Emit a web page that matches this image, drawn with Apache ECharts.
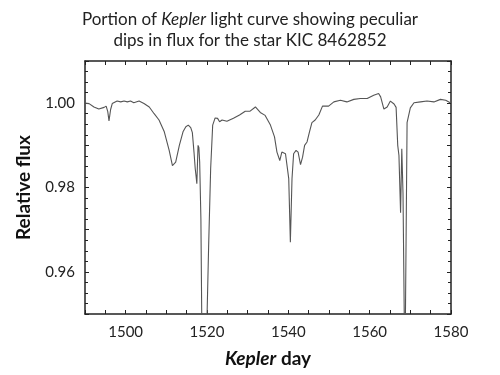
<!DOCTYPE html>
<html>
<head>
<meta charset="utf-8">
<script src="https://cdn.jsdelivr.net/npm/echarts@6/dist/echarts.min.js"></script>
<style>
    html, body { margin: 0; padding: 0; background: #fff; }
    #kepler-chart { width: 500px; height: 375px; }
</style>
</head>
<body>
<div id="kepler-chart"></div>
<script>
    // Kepler day
    var days = [
        1490.0, 1491.0, 1492.2, 1493.4, 1494.7, 1495.2, 1495.6, 1495.9, 1496.3, 1496.7, 1497.9, 1498.8,
        1499.6, 1500.4, 1501.2, 1502.0, 1503.3, 1504.5, 1505.8, 1507.0, 1508.2, 1509.5, 1510.7, 1511.5,
        1512.3, 1513.2, 1514.1, 1514.8, 1515.4, 1516.0, 1516.4, 1516.8, 1517.1, 1517.3, 1517.5, 1517.8,
        1518.0, 1518.2, 1518.5, 1518.7, 1519.1, 1519.5, 1520.0, 1520.4, 1520.9, 1521.4, 1522.0, 1522.6,
        1523.1, 1523.7, 1524.9, 1526.5, 1528.0, 1529.4, 1530.6, 1531.9, 1533.1, 1534.3, 1535.6, 1536.6,
        1537.2, 1537.9, 1538.4, 1538.8, 1539.3, 1539.7, 1540.1, 1540.5, 1540.9, 1541.3, 1541.9, 1542.4,
        1543.0, 1543.5, 1544.0, 1544.6, 1545.2, 1545.8, 1546.6, 1547.5, 1548.4, 1549.9, 1551.2, 1552.8,
        1554.4, 1556.1, 1557.7, 1559.4, 1561.0, 1562.2, 1562.7, 1563.5, 1564.3, 1565.1, 1566.0, 1566.5,
        1566.9, 1567.2, 1567.6, 1567.9, 1568.2, 1568.5, 1568.6, 1568.8, 1569.2, 1570.0, 1570.9, 1572.5,
        1574.1, 1575.8, 1577.4, 1578.7, 1579.8
    ];
    // relative flux
    var flux = [
        1.0000, 0.9999, 0.9991, 0.9986, 0.9990, 0.9993, 0.9980, 0.9958, 0.9985, 0.9999, 1.0005, 1.0003,
        1.0005, 1.0003, 1.0005, 1.0001, 1.0005, 0.9999, 0.9991, 0.9975, 0.9960, 0.9932, 0.9888, 0.9852,
        0.9860, 0.9900, 0.9932, 0.9944, 0.9948, 0.9942, 0.9930, 0.9884, 0.9845, 0.9828, 0.9809, 0.9900,
        0.9895, 0.9860, 0.9726, 0.9500, 0.8600, 0.8300, 0.9490, 0.9660, 0.9845, 0.9948, 0.9965, 0.9964,
        0.9956, 0.9960, 0.9957, 0.9964, 0.9972, 0.9981, 0.9981, 0.9991, 0.9978, 0.9971, 0.9948, 0.9920,
        0.9884, 0.9864, 0.9884, 0.9888, 0.9880, 0.9876, 0.9821, 0.9670, 0.9820, 0.9880, 0.9888, 0.9884,
        0.9854, 0.9872, 0.9900, 0.9908, 0.9932, 0.9954, 0.9960, 0.9972, 0.9993, 0.9993, 1.0003, 1.0007,
        1.0003, 1.0009, 1.0011, 1.0011, 1.0019, 1.0023, 1.0015, 0.9986, 0.9991, 1.0005, 0.9998, 0.9990,
        0.9900, 0.9876, 0.9740, 0.9892, 0.9785, 0.9500, 0.9200, 0.9500, 0.9954, 0.9989, 1.0001, 1.0003,
        1.0005, 1.0003, 1.0009, 1.0007, 1.0001
    ];
    var titleLines = ['Portion of {i|Kepler} light curve showing peculiar', 'dips in flux for the star KIC 8462852'];

    var myChart = echarts.init(document.getElementById('kepler-chart'));
    var fontName = 'Lato';

    var points = [];
    for (var i = 0; i < days.length; i++) {
        points.push([days[i], flux[i]]);
    }

    var tickStyle = { show: true, inside: true, length: 4, lineStyle: { color: '#222', width: 1 } };
    var minorStyle = { show: true, splitNumber: 2, length: 4, lineStyle: { color: '#222', width: 1 } };
    var lineStyle = { show: true, lineStyle: { color: '#222', width: 1.5 } };

    var option = {
        animation: false,
        title: {
            text: titleLines.join('\n'),
            left: 'center',
            top: 4,
            textStyle: {
                fontFamily: fontName,
                fontSize: 17,
                fontWeight: 'normal',
                color: '#222',
                lineHeight: 21,
                rich: {
                    i: { fontFamily: fontName, fontSize: 17, fontStyle: 'italic', color: '#222', lineHeight: 21 }
                }
            }
        },
        grid: { left: 85, right: 49, top: 61, bottom: 61 },
        xAxis: [
            {
                type: 'value',
                min: 1490,
                max: 1580,
                interval: 10,
                name: '{i|Kepler} day',
                nameLocation: 'middle',
                nameGap: 35,
                nameTextStyle: {
                    fontFamily: fontName,
                    fontSize: 19,
                    fontWeight: 'bold',
                    color: '#111',
                    rich: {
                        i: { fontFamily: fontName, fontSize: 19, fontWeight: 'bold', fontStyle: 'italic', color: '#111' }
                    }
                },
                axisLine: lineStyle,
                axisTick: tickStyle,
                minorTick: minorStyle,
                splitLine: { show: false },
                axisLabel: {
                    fontFamily: fontName,
                    fontSize: 15,
                    color: '#222',
                    margin: 11,
                    formatter: function (v) { return v % 20 === 0 ? String(v) : ''; }
                }
            },
            {
                type: 'value',
                position: 'top',
                min: 1490,
                max: 1580,
                interval: 10,
                axisLine: lineStyle,
                axisTick: tickStyle,
                minorTick: minorStyle,
                splitLine: { show: false },
                axisLabel: { show: false }
            }
        ],
        yAxis: [
            {
                type: 'value',
                min: 0.95,
                max: 1.01,
                interval: 0.01,
                name: 'Relative flux',
                nameLocation: 'middle',
                nameGap: 52,
                nameTextStyle: { fontFamily: fontName, fontSize: 19, fontWeight: 'bold', color: '#111' },
                axisLine: lineStyle,
                axisTick: tickStyle,
                minorTick: { show: true, splitNumber: 4, length: 3, lineStyle: { color: '#222', width: 1 } },
                splitLine: { show: false },
                axisLabel: {
                    fontFamily: fontName,
                    fontSize: 15,
                    color: '#222',
                    margin: 10,
                    formatter: function (v) { return Math.round(v * 100) % 2 === 0 ? v.toFixed(2) : ''; }
                }
            },
            {
                type: 'value',
                position: 'right',
                min: 0.95,
                max: 1.01,
                interval: 0.01,
                axisLine: lineStyle,
                axisTick: tickStyle,
                minorTick: { show: true, splitNumber: 4, length: 3, lineStyle: { color: '#222', width: 1 } },
                splitLine: { show: false },
                axisLabel: { show: false }
            }
        ],
        series: [
            {
                name: 'flux',
                type: 'line',
                data: points,
                showSymbol: false,
                clip: true,
                lineStyle: { color: '#555', width: 1.1 }
            }
        ]
    };

    myChart.setOption(option);
</script>
</body>
</html>
